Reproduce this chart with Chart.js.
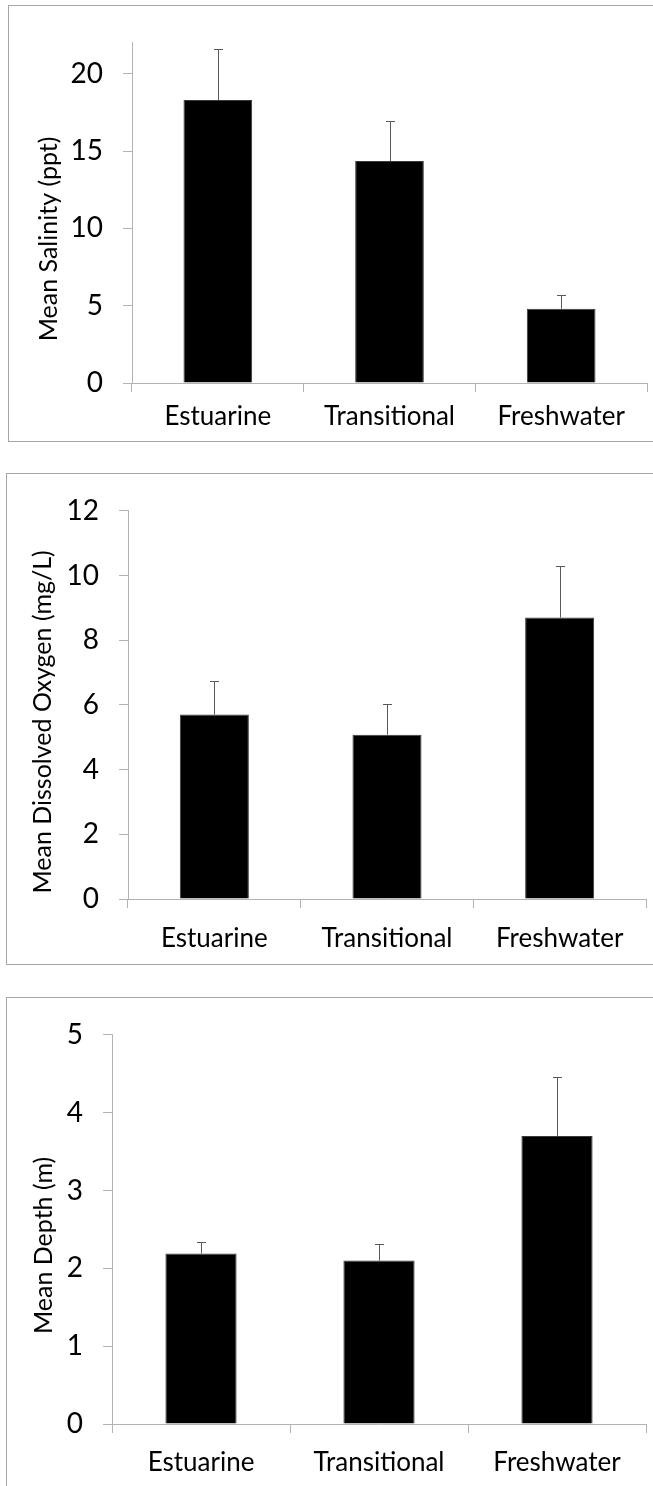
<!DOCTYPE html>
<html>
<head>
<meta charset="utf-8">
<script src="https://cdn.jsdelivr.net/npm/chart.js@4.4.1/dist/chart.umd.min.js"></script>
<style>
  body { margin: 0; background: #fff; width: 653px; height: 1486px; overflow: hidden; position: relative; }
  .panel { position: absolute; border: 1px solid #a6a6a6; border-right: none; width: 700px; }
  .panel canvas { position: absolute; left: 0; top: 0; }
</style>
</head>
<body>
<div class="panel" style="left:8px; top:5px; height:435px;"><canvas id="salinity-chart"></canvas></div>
<div class="panel" style="left:6px; top:473px; height:490px;"><canvas id="oxygen-chart"></canvas></div>
<div class="panel" style="left:6px; top:997px; height:600px;"><canvas id="depth-chart"></canvas></div>
<script>
  // data
  const categories = ["Estuarine", "Transitional", "Freshwater"];

  const salinity = [18.3, 14.35, 4.8];
  const salinityErr = [3.3, 2.6, 0.9];
  const salinityAxis = [0, 22, 5]; // min, max, step

  const oxygen = [5.7, 5.08, 8.7];
  const oxygenErr = [1.03, 0.95, 1.6];
  const oxygenAxis = [0, 12, 2];

  const depth = [2.19, 2.1, 3.7];
  const depthErr = [0.15, 0.21, 0.76];
  const depthAxis = [0, 5, 1];

  const FONT = "Lato, 'Open Sans', sans-serif";
  const AXIS_GRAY = "#b3b3b3";

  // upper error bars with a small cap
  const errorBars = {
    id: "errorBars",
    afterDatasetsDraw(chart) {
      const ctx = chart.ctx;
      const y = chart.scales.y;
      chart.data.datasets.forEach((ds, i) => {
        chart.getDatasetMeta(i).data.forEach((bar, j) => {
          const top = y.getPixelForValue(ds.data[j] + ds.errors[j]);
          ctx.save();
          ctx.strokeStyle = "#595959";
          ctx.lineWidth = 1;
          ctx.beginPath();
          ctx.moveTo(Math.round(bar.x) + 0.5, bar.y);
          ctx.lineTo(Math.round(bar.x) + 0.5, Math.round(top) + 0.5);
          ctx.moveTo(Math.round(bar.x) - 4, Math.round(top) + 0.5);
          ctx.lineTo(Math.round(bar.x) + 5, Math.round(top) + 0.5);
          ctx.stroke();
          ctx.restore();
        });
      });
    }
  };

  // rotated y title, centred like Excel does (plot area + category labels)
  const yTitle = {
    id: "yTitle",
    afterDraw(chart, args, opts) {
      const ctx = chart.ctx;
      const area = chart.chartArea;
      ctx.save();
      ctx.translate(opts.x, (area.top + area.bottom) / 2 + opts.shift);
      ctx.rotate(-Math.PI / 2);
      ctx.font = "25px " + FONT;
      ctx.fillStyle = "#000";
      ctx.textAlign = "center";
      ctx.textBaseline = "middle";
      ctx.fillText(opts.text, 0, 0);
      ctx.restore();
    }
  };

  function makeChart(id, w, h, values, errors, axis, title, box) {
    const canvas = document.getElementById(id);
    canvas.style.width = w + "px";
    canvas.style.height = h + "px";
    canvas.width = w;
    canvas.height = h;
    return new Chart(canvas.getContext("2d"), {
      type: "bar",
      data: {
        labels: categories,
        datasets: [{
          data: values,
          errors: errors,
          backgroundColor: "#000",
          borderColor: "#3a3a3a",
          borderWidth: 1,
          barPercentage: 0.4,
          categoryPercentage: 1
        }]
      },
      options: {
        responsive: false,
        animation: false,
        layout: { padding: { top: box.top, right: box.right, left: 0, bottom: 0 } },
        plugins: {
          legend: { display: false },
          tooltip: { enabled: false },
          yTitle: { text: title, x: box.titleX, shift: box.shift }
        },
        scales: {
          x: {
            afterFit: (s) => { s.height = box.xh; },
            border: { color: AXIS_GRAY, width: 1 },
            grid: { offset: true, drawOnChartArea: false, color: AXIS_GRAY, tickLength: 9 },
            ticks: { color: "#000", padding: box.xpad, font: { family: FONT, size: 26 } }
          },
          y: {
            min: axis[0],
            max: axis[1],
            afterFit: (s) => { s.width = box.yw; },
            border: { color: AXIS_GRAY, width: 1 },
            grid: { drawOnChartArea: false, color: AXIS_GRAY, tickLength: 9 },
            ticks: { stepSize: axis[2], includeBounds: false, color: "#000", padding: 20,
                     font: { family: FONT, size: 28 } }
          }
        }
      },
      plugins: [errorBars, yTitle]
    });
  }

  makeChart("salinity-chart", 644, 435, salinity, salinityErr, salinityAxis, "Mean Salinity (ppt)",
    { top: 24, right: 6, yw: 123, xh: 58, xpad: 9, titleX: 40, shift: 26 });
  makeChart("oxygen-chart", 646, 490, oxygen, oxygenErr, oxygenAxis, "Mean Dissolved Oxygen (mg/L)",
    { top: 27, right: 7, yw: 121, xh: 65, xpad: 15, titleX: 36, shift: 17 });
  makeChart("depth-chart", 646, 520, depth, depthErr, depthAxis, "Mean Depth (m)",
    { top: 26, right: 7, yw: 105, xh: 94, xpad: 14, titleX: 37, shift: 16 });
</script>
</body>
</html>
